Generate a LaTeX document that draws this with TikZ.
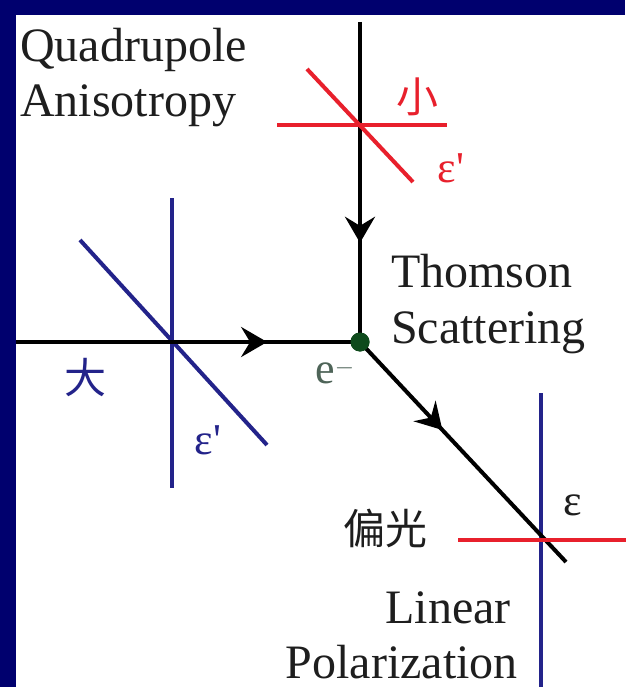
\documentclass[tikz,border=0pt]{standalone}
\usepackage{fontspec}
\setmainfont{Liberation Serif}
\newfontfamily\cjk{Noto Sans CJK SC}
\usetikzlibrary{arrows.meta,decorations.markings,calc}

\definecolor{navyframe}{HTML}{00006E}
\definecolor{polblue}{HTML}{23238A}
\definecolor{polred}{HTML}{E8202C}
\definecolor{vgreen}{HTML}{0E4A1C}
\definecolor{egray}{HTML}{4E6458}
\definecolor{ink}{HTML}{1E1E1E}

\tikzset{
  beam/.style={line width=4pt, black, postaction={decorate},
    decoration={markings, mark=at position #1 with
      {\arrow{Stealth[length=26pt,width=30pt,inset=9pt]}}}},
  bluepol/.style={line width=4pt, polblue},
  redpol/.style={line width=4pt, polred},
  vertex/.style={circle, fill=vgreen, minimum size=19pt, inner sep=0pt},
  bigtext/.style={font=\fontsize{48}{55}\selectfont, text=ink, inner sep=0pt},
  cjktext/.style={font=\cjk\fontsize{42}{42}\selectfont, inner sep=0pt},
  eps/.style={font=\fontsize{44}{44}\selectfont, inner sep=0pt}
}

\begin{document}
\begin{tikzpicture}[x=1pt,y=-1pt]
  \useasboundingbox (0,0) rectangle (625,687);
  \fill[white] (0,0) rectangle (625,687);
  % frame
  \fill[navyframe] (0,0) rectangle (625,15);
  \fill[navyframe] (0,0) rectangle (16,687);

  % points
  \node[vertex] (e) at (360,342) {};
  \coordinate (src) at (360,22);
  \coordinate (in) at (16,342);
  \coordinate (out) at (566,562);
  \coordinate (qa) at (360,125);   % small
  \coordinate (pa) at (172,342);   % large
  \coordinate (pb) at (541,540);   % polarized

  % incoming polarization (blue)
  \draw[bluepol] ($(pa)+(0,-144)$) -- ($(pa)+(0,146)$);
  \draw[bluepol] ($(pa)+(-92,-102)$) -- ($(pa)+(95,103)$);
  \draw[bluepol] ($(pb)+(0,-147)$) -- ($(pb)+(0,150)$);

  % beams
  \draw[beam=0.69] (src) -- (e.center);
  \draw[beam=0.73] (in) -- (e.center);
  \draw[beam=0.40] (e.center) -- (out);
  \node[vertex] at (e) {};

  % red polarization
  \draw[redpol] ($(qa)+(-83,0)$) -- ($(qa)+(87,0)$);
  \draw[redpol] ($(qa)+(-53,-56)$) -- ($(qa)+(53,57)$);
  \draw[redpol] ($(pb)+(-83,0)$) -- ($(pb)+(86,0)$);

  % labels
  \node[bigtext, anchor=base west] (quad) at (20,62) {Quadrupole};
  \node[bigtext, anchor=base west] (aniso) at (20,117) {Anisotropy};
  \node[bigtext, anchor=base west] (thom) at (391,287) {Thomson};
  \node[bigtext, anchor=base west] (scat) at (391,343) {Scattering};
  \node[bigtext, anchor=base east] (lin) at (511,623) {Linear};
  \node[bigtext, anchor=base east] (polz) at (518,678) {Polarization};
  \node[cjktext, text=polred] (small) at (417,97) {小};
  \node[eps, text=polred] (epsa) at (451,168) {ε\textquotesingle};
  \node[cjktext, text=polblue] (large) at (85,378) {大};
  \node[eps, text=polblue] (epsb) at (208,440) {ε\textquotesingle};
  \node[font=\fontsize{44}{44}\selectfont, text=egray, inner sep=0pt] (elec) at (335,372) {e$^{-}$};
  \node[cjktext, text=ink] (pol) at (385,528) {偏光};
  \node[eps, text=ink] (epsc) at (573,505) {ε};
\end{tikzpicture}
\end{document}
